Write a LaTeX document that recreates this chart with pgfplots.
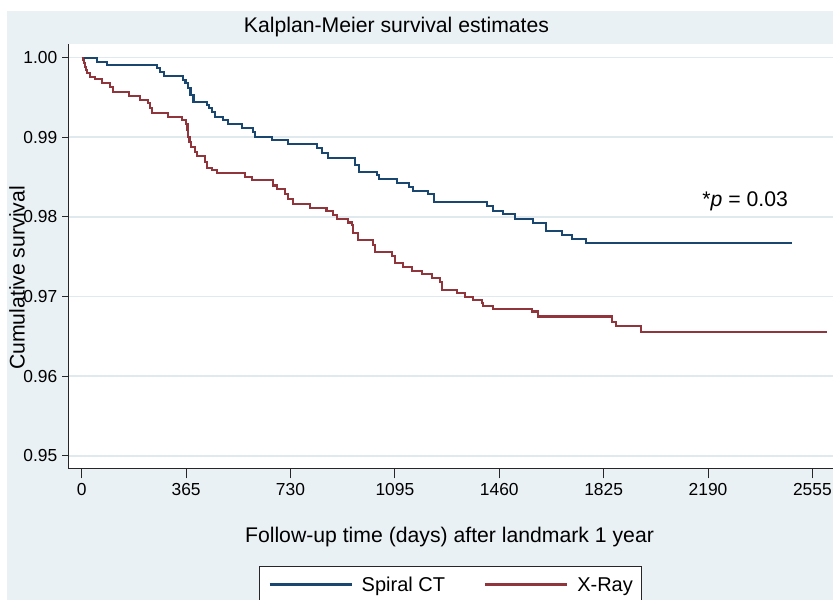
\documentclass[border=0pt]{standalone}
\usepackage{pgfplots}
\pgfplotsset{compat=1.18}
\usepackage{fontspec}
\setmainfont{Liberation Sans}
\definecolor{bgcol}{RGB}{234,241,244}
\definecolor{gridcol}{RGB}{224,233,238}
\definecolor{ctblue}{RGB}{26,71,111}
\definecolor{xrred}{RGB}{144,53,59}
\begin{document}
\begin{tikzpicture}
\useasboundingbox (0,0) rectangle (416.5bp,300bp);
\clip (0,0) rectangle (416.5bp,300bp);
\fill[white] (0,0) rectangle (416.5bp,300bp);
\fill[bgcol] (3.5bp,0) rectangle (416.5bp,294.5bp);
\begin{axis}[
  at={(34.15bp,65.85bp)}, anchor=south west,
  scale only axis, width=382.35bp, height=212.15bp,
  xmin=-46.9, xmax=2627, ymin=0.94842, ymax=1.00172,
  axis lines*=left,
  axis line style={black!85, line width=0.6bp},
  axis background/.style={fill=white},
  xtick={0,365,730,1095,1460,1825,2190,2555},
  ytick={0.95,0.96,0.97,0.98,0.99,1.00},
  scaled y ticks=false, scaled x ticks=false,
  tick align=outside,
  major tick length=3bp,
  xtick style={/pgfplots/major tick length=5bp},
  tick style={black!85, line width=0.5bp},
  ymajorgrids,
  major grid style={draw=gridcol, line width=0.8bp},
  /pgf/number format/assume math mode=true,
  x tick label style={/pgf/number format/1000 sep={}, font=\fontsize{8.7bp}{10bp}\selectfont, yshift=-1bp},
  y tick label style={/pgf/number format/.cd, fixed, fixed zerofill, precision=2, /tikz/.cd, font=\fontsize{8.7bp}{10bp}\selectfont, xshift=1bp},
  every axis title shift=0pt,
  title={Kalplan-Meier survival estimates},
  title style={at={(axis description cs:0.4292,1.0401)}, anchor=center, font=\fontsize{10.6bp}{12bp}\selectfont},
  xlabel={Follow-up time (days) after landmark 1 year},
  xlabel style={at={(axis description cs:0.4985,-0.1619)}, anchor=center, font=\fontsize{10.6bp}{12bp}\selectfont},
  ylabel={Cumulative survival},
  every axis y label/.style={at={(axis description cs:-0.0671,0.4485)}, anchor=center, rotate=90, font=\fontsize{10.6bp}{12bp}\selectfont},
  legend columns=2,
  legend cell align=left,
  legend image code/.code={\draw[#1] (0bp,0bp) -- (41bp,0bp);},
  legend style={at={(axis description cs:0.2494,-0.2303)}, anchor=north west,
    draw=black!85, line width=0.5bp, fill=white,
    inner xsep=4.5bp, inner ysep=5.4bp,
    font=\fontsize{10bp}{12bp}\selectfont,
    nodes={inner sep=0bp, text height=7.2bp, text depth=0bp},
    /tikz/every odd column/.append style={column sep=4.5bp},
    /tikz/every even column/.append style={column sep=19.5bp}},
]
\addplot[const plot, color=ctblue, line width=1.1bp] coordinates {
(0,1.0) (52.5,0.99950) (87.4,0.99908) (262.3,0.99867) (273.8,0.99820)
(287.8,0.99770) (355.3,0.99720) (363.0,0.99678) (371.7,0.99616) (380.5,0.99531)
(391.0,0.99447) (437.1,0.99406) (445.2,0.99364) (455.7,0.99322) (466.2,0.99259)
(495.2,0.99217) (512.7,0.99167) (559.5,0.99113) (598.0,0.99070) (606.1,0.99008)
(664.4,0.98966) (722.5,0.98912) (821.8,0.98862) (839.3,0.98799) (862.4,0.98736)
(955.7,0.98652) (969.7,0.98568) (1031.6,0.98526) (1040.7,0.98472) (1101.6,0.98430)
(1145.6,0.98379) (1159.6,0.98329) (1212.1,0.98288) (1232.0,0.98183) (1416.3,0.98137)
(1437.3,0.98078) (1474.4,0.98036) (1515.3,0.97974) (1579.3,0.97927) (1623.7,0.97827)
(1678.6,0.97773) (1713.6,0.97722) (1763.6,0.97676) (2485.0,0.97676)
};
\addlegendentry{Spiral CT}
\addplot[const plot, color=xrred, line width=1.1bp] coordinates {
(0,1.0) (4.5,0.99971) (8.0,0.99933) (11.5,0.99887) (15.0,0.99845) (18.5,0.99804)
(29.0,0.99761) (46.5,0.99729) (69.9,0.99686) (99.0,0.99636) (110.5,0.99573)
(166.5,0.99519) (203.9,0.99469) (232.9,0.99427) (238.9,0.99364) (244.8,0.99302)
(301.8,0.99259) (349.7,0.99217) (364.7,0.99167) (370.0,0.99092) (372.8,0.99008)
(377.0,0.98945) (381.2,0.98882) (396.2,0.98819) (402.2,0.98765) (431.2,0.98693)
(439.2,0.98611) (454.6,0.98589) (472.1,0.98552) (571.1,0.98501) (595.6,0.98464)
(670.0,0.98394) (681.9,0.98351) (711.0,0.98288) (722.5,0.98225) (740.0,0.98162)
(798.4,0.98112) (856.1,0.98074) (879.9,0.98024) (891.8,0.97970) (932.3,0.97930)
(944.2,0.97898) (949.8,0.97798) (967.3,0.97710) (1019.7,0.97647) (1025.7,0.97563)
(1084.1,0.97509) (1095.6,0.97417) (1122.6,0.97374) (1154.0,0.97324) (1189.0,0.97283)
(1224.0,0.97235) (1253.0,0.97182) (1260.0,0.97082) (1311.4,0.97040) (1340.4,0.96990)
(1369.5,0.96956) (1398.8,0.96918) (1404.4,0.96884) (1439.4,0.96843) (1573.7,0.96812)
(1595.7,0.96749) (1853.5,0.96683) (1868.5,0.96629) (1954.9,0.96558) (2605.3,0.96558)
};
\addlegendentry{X-Ray}
\node[anchor=center, font=\fontsize{10.6bp}{12bp}\selectfont] at (axis cs:2320,0.9819) {*\textit{p} = 0.03};
\end{axis}
\end{tikzpicture}
\end{document}
